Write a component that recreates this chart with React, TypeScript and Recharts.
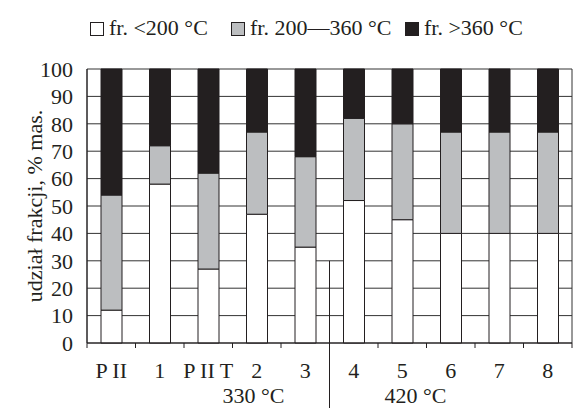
import React from 'react';
import { BarChart, Bar, XAxis, YAxis, CartesianGrid, ReferenceLine, Legend } from 'recharts';

const categories = ['P II', '1', 'P II T', '2', '3', '4', '5', '6', '7', '8'];
const lightFraction = [12, 58, 27, 47, 35, 52, 45, 40, 40, 40];
const middleFraction = [42, 14, 35, 30, 33, 30, 35, 37, 37, 37];
const heavyFraction = [46, 28, 38, 23, 32, 18, 20, 23, 23, 23];
const seriesNames = ['fr. <200 °C', 'fr. 200—360 °C', 'fr. >360 °C'];
const seriesColors = ['#ffffff', '#bcbec0', '#231f20'];
const yTicks = [0, 10, 20, 30, 40, 50, 60, 70, 80, 90, 100];
const groupLabels = ['330 °C', '420 °C'];
const groupSplitIndex = 5;
const dividerFrom = 30;
const dividerTo = -24;
const yLabel = 'udział frakcji, % mas.';

const data = categories.map((c, i) => ({
  name: c,
  light: lightFraction[i],
  middle: middleFraction[i],
  heavy: heavyFraction[i],
}));

const FONT = "'Liberation Serif', 'Times New Roman', serif";
const INK = '#231f20';

const legendX = [90, 231, 405];

function LegendContent(props: any) {
  const payload = props.payload || [];
  const items = seriesNames.map((n, i) => {
    const p = payload.find((q: any) => q.value === n);
    return { value: n, color: (p && p.color) || seriesColors[i] };
  });
  return (
    <svg width={581} height={45} style={{ display: 'block' }}>
      {items.map((p: any, i: number) => (
        <g key={i}>
          <rect x={legendX[i] + 0.5} y={22.5} width={13} height={13} fill={p.color} stroke={INK} strokeWidth={1} />
          <text x={legendX[i] + 19} y={35} fontFamily={FONT} fontSize={22} fill={INK}>
            {p.value}
          </text>
        </g>
      ))}
    </svg>
  );
}

function XTick(props: any) {
  const { x, y, payload } = props;
  const off = payload.offset ?? 24.25;
  const idx = payload.index;
  const left = x - off;
  return (
    <g>
      <line x1={left} y1={y} x2={left} y2={y + 5} stroke={INK} strokeWidth={1} />
      {idx === categories.length - 1 && (
        <line x1={x + off} y1={y} x2={x + off} y2={y + 5} stroke={INK} strokeWidth={1} />
      )}
      <text x={x} y={y + 35} textAnchor="middle" fontFamily={FONT} fontSize={22} fill={INK}>
        {payload.value}
      </text>
      {idx === groupSplitIndex && (
        <g>
          <text x={left - 45} y={y + 60} textAnchor="end" fontFamily={FONT} fontSize={22} fill={INK}>
            {groupLabels[0]}
          </text>
          <text x={left + 55} y={y + 60} textAnchor="start" fontFamily={FONT} fontSize={22} fill={INK}>
            {groupLabels[1]}
          </text>
        </g>
      )}
    </g>
  );
}

function YLabel(props: any) {
  const vb = props.viewBox || { x: 0, y: 69, width: 87, height: 274 };
  const cx = 42;
  const cy = vb.y + vb.height / 2;
  return (
    <text
      x={cx}
      y={cy}
      transform={`rotate(-90, ${cx}, ${cy})`}
      textAnchor="middle"
      fontFamily={FONT}
      fontSize={22}
      fill={INK}
    >
      {yLabel}
    </text>
  );
}

export default function App() {
  const splitCat = categories[groupSplitIndex];
  return (
    <div style={{ position: 'absolute', left: 0, top: 0, background: '#fff' }}>
      <BarChart
        width={581}
        height={408}
        data={data}
        margin={{ top: 69, right: 9, bottom: 0, left: 0 }}
        barSize={21}
      >
        <CartesianGrid
          stroke="#333"
          strokeWidth={1}
          horizontal={true}
          vertical={true}
          verticalCoordinatesGenerator={(p: any) => [p.offset.left, p.offset.left + p.offset.width]}
        />
        <XAxis
          dataKey="name"
          height={65}
          axisLine={{ stroke: INK, strokeWidth: 1 }}
          tickLine={false}
          tickSize={0}
          tickMargin={0}
          interval={0}
          tick={<XTick />}
        />
        <YAxis
          width={87}
          domain={[0, 100]}
          ticks={yTicks}
          interval={0}
          axisLine={{ stroke: INK, strokeWidth: 1 }}
          tickLine={false}
          tickSize={0}
          tickMargin={14}
          tick={{ fontFamily: FONT, fontSize: 22, fill: INK }}
          label={<YLabel />}
        />
        <Legend
          layout="horizontal"
          verticalAlign="middle"
          align="center"
          wrapperStyle={{ top: 0, left: 0, width: 581 }}
          content={<LegendContent />}
        />
        <Bar dataKey="light" name={seriesNames[0]} stackId="s" fill={seriesColors[0]} stroke={INK} strokeWidth={1} isAnimationActive={false} />
        <Bar dataKey="middle" name={seriesNames[1]} stackId="s" fill={seriesColors[1]} stroke={INK} strokeWidth={1} isAnimationActive={false} />
        <Bar dataKey="heavy" name={seriesNames[2]} stackId="s" fill={seriesColors[2]} stroke={INK} strokeWidth={1} isAnimationActive={false} />
        <ReferenceLine
          segment={[{ x: splitCat, y: dividerFrom }, { x: splitCat, y: dividerTo }]}
          position="start"
          ifOverflow="visible"
          stroke={INK}
          strokeWidth={1}
        />
      </BarChart>
    </div>
  );
}
